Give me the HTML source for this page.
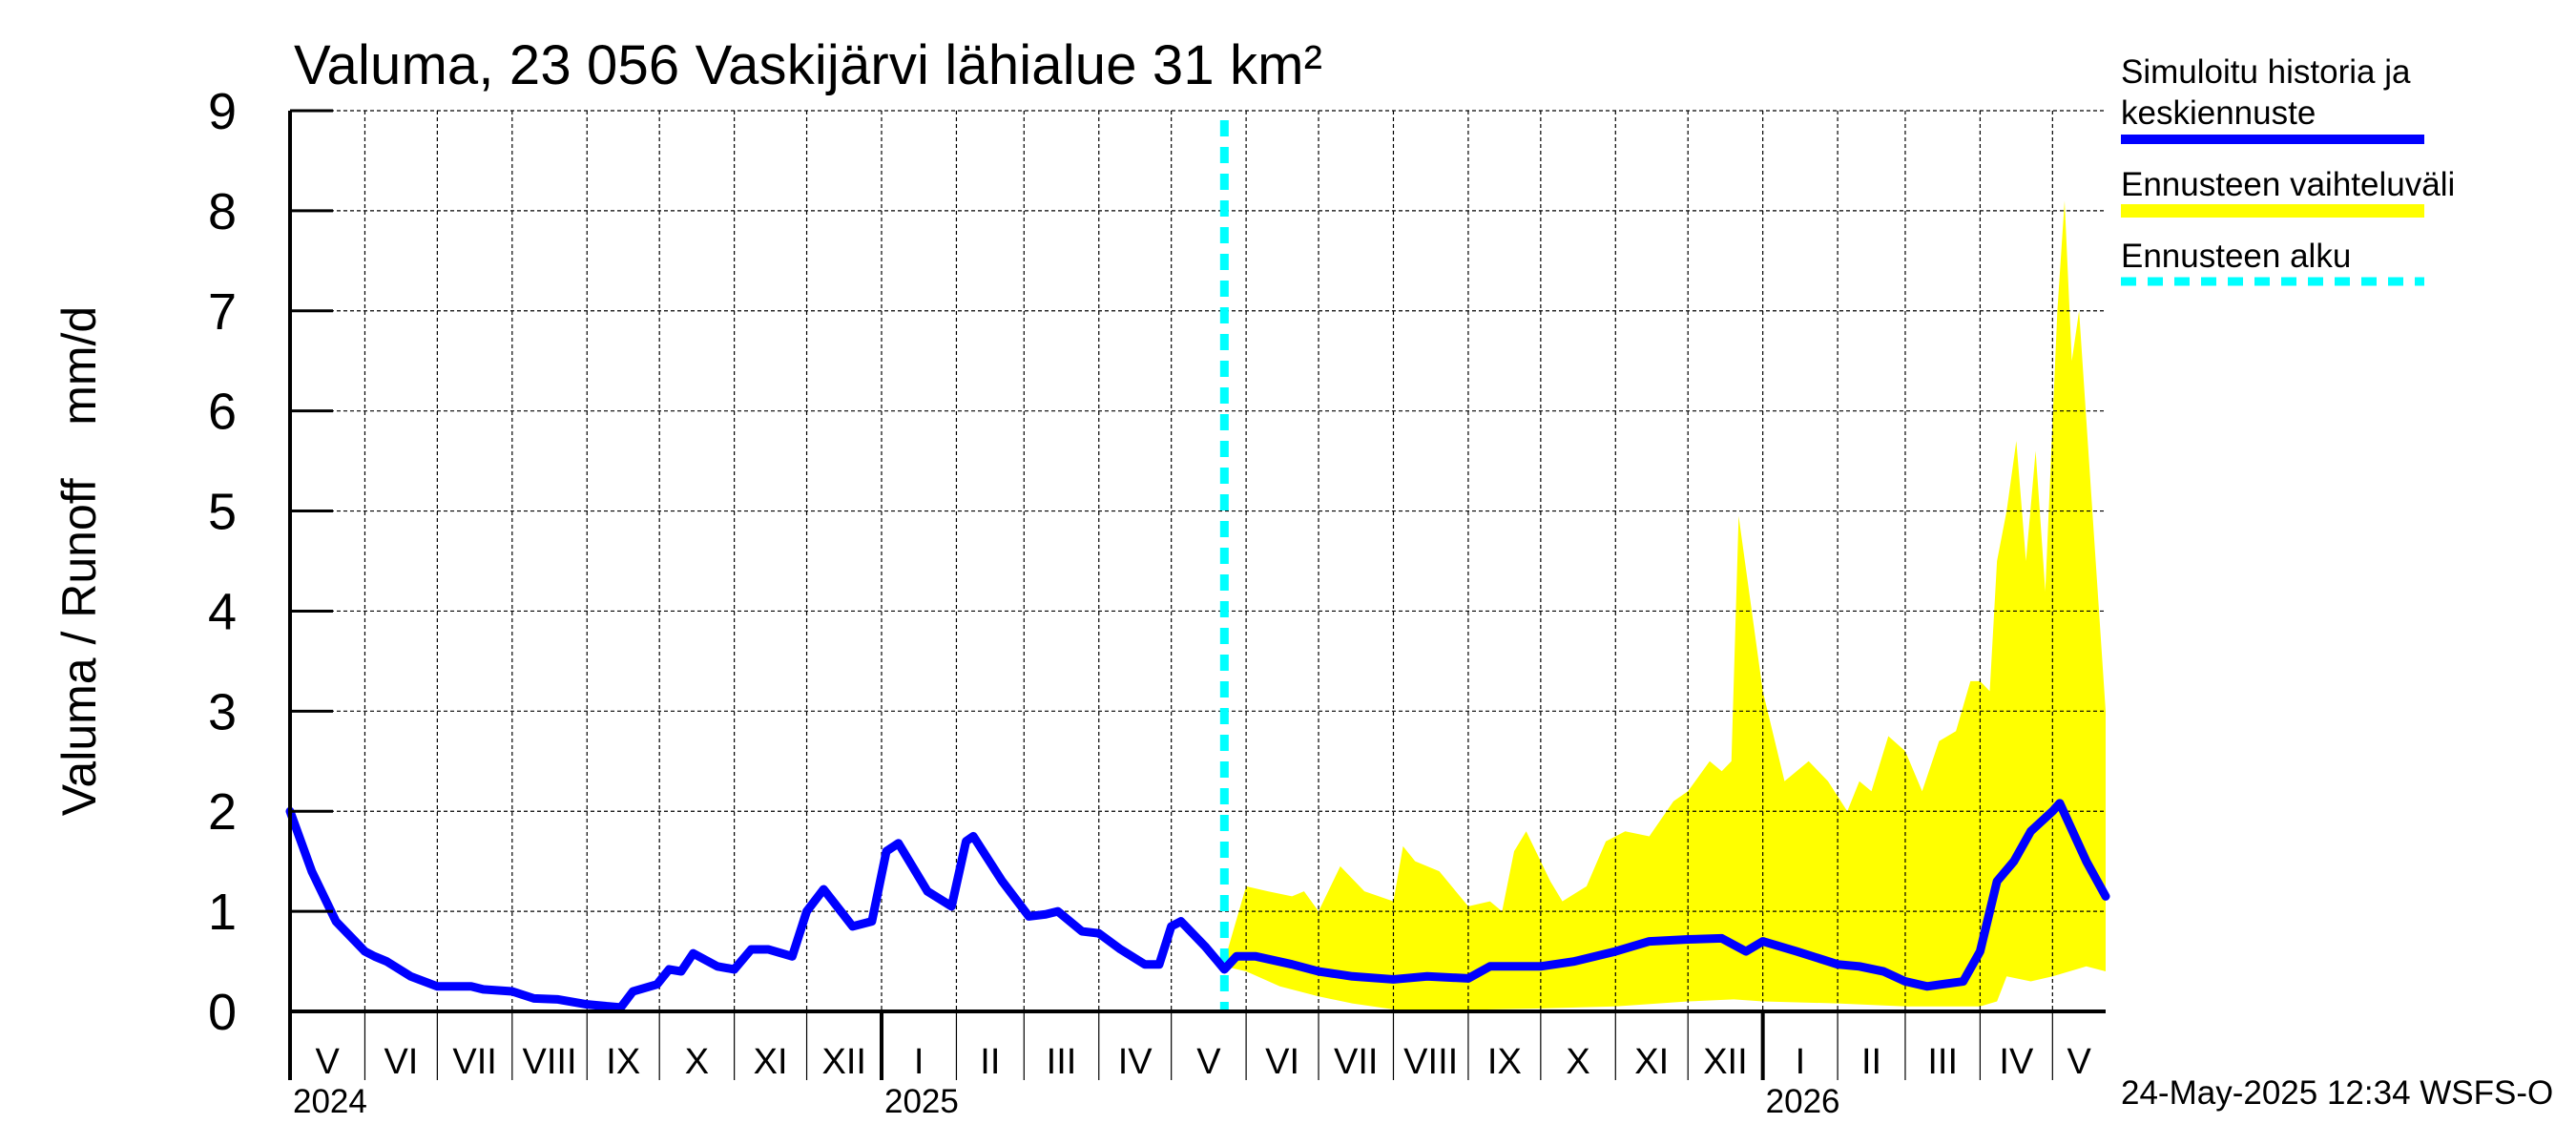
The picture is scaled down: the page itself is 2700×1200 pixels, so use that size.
<!DOCTYPE html>
<html><head><meta charset="utf-8"><style>
html,body{margin:0;padding:0;background:#fff}
svg{display:block;font-family:"Liberation Sans",sans-serif}
</style></head><body>
<svg id="chart" width="2700" height="1200" viewBox="0 0 2700 1200" xmlns="http://www.w3.org/2000/svg">
<rect width="2700" height="1200" fill="#fff"/>
<g id="band"></g>
<g id="grid"></g>
<g id="series"></g>
<g id="axes"></g>
<text x="308" y="88" font-size="58" textLength="1078">Valuma, 23 056 Vaskijärvi lähialue 31 km²</text>
<text transform="translate(100,588) rotate(-90)" text-anchor="middle" font-size="50" xml:space="preserve">Valuma / Runoff    mm/d</text>
<g>
<text x="2223" y="87" font-size="35">Simuloitu historia ja</text>
<text x="2223" y="130" font-size="35">keskiennuste</text>
<line x1="2223" y1="146" x2="2541" y2="146" stroke="#0000ff" stroke-width="10"/>
<text x="2223" y="205" font-size="35">Ennusteen vaihteluväli</text>
<line x1="2223" y1="221" x2="2541" y2="221" stroke="#ffff00" stroke-width="14"/>
<text x="2223" y="280" font-size="35">Ennusteen alku</text>
<line x1="2223" y1="295" x2="2541" y2="295" stroke="#00ffff" stroke-width="9" stroke-dasharray="16,12"/>
</g>
<text x="2223" y="1157" font-size="35">24-May-2025 12:34 WSFS-O</text>
</svg>
<script>
const histDates=["2024-05-01","2024-05-10","2024-05-20","2024-06-01","2024-06-05","2024-06-10","2024-06-20","2024-07-01","2024-07-15","2024-07-20","2024-08-01","2024-08-10","2024-08-20","2024-09-01","2024-09-10","2024-09-15","2024-09-20","2024-09-30","2024-10-05","2024-10-10","2024-10-15","2024-10-25","2024-11-01","2024-11-08","2024-11-15","2024-11-25","2024-12-01","2024-12-08","2024-12-20","2024-12-28","2025-01-03","2025-01-08","2025-01-20","2025-01-30","2025-02-05","2025-02-08","2025-02-20","2025-03-03","2025-03-10","2025-03-15","2025-03-25","2025-04-01","2025-04-10","2025-04-20","2025-04-26","2025-05-01","2025-05-05","2025-05-15","2025-05-23","2025-05-28","2025-06-05","2025-06-20","2025-07-01","2025-07-15","2025-08-01","2025-08-15","2025-09-01","2025-09-10","2025-09-20","2025-10-01","2025-10-15","2025-11-01","2025-11-15","2025-12-01","2025-12-15","2025-12-25","2026-01-01","2026-01-15","2026-02-01","2026-02-10","2026-02-20","2026-03-01","2026-03-10","2026-03-25","2026-04-01","2026-04-08","2026-04-15","2026-04-22","2026-05-01","2026-05-04","2026-05-15","2026-05-23"];
const histValues=[2.0,1.4,0.9,0.6,0.55,0.5,0.35,0.25,0.25,0.22,0.2,0.13,0.12,0.07,0.05,0.04,0.2,0.27,0.42,0.4,0.58,0.45,0.42,0.62,0.62,0.55,1.0,1.22,0.85,0.9,1.6,1.68,1.2,1.05,1.7,1.75,1.3,0.95,0.97,1.0,0.8,0.78,0.62,0.47,0.47,0.85,0.9,0.65,0.42,0.55,0.55,0.47,0.4,0.35,0.32,0.35,0.33,0.45,0.45,0.45,0.5,0.6,0.7,0.72,0.73,0.6,0.7,0.6,0.47,0.45,0.4,0.3,0.25,0.3,0.6,1.3,1.5,1.8,2.0,2.08,1.5,1.15];
const upDates=["2025-05-23","2025-06-01","2025-06-10","2025-06-20","2025-06-25","2025-07-01","2025-07-10","2025-07-20","2025-08-01","2025-08-05","2025-08-10","2025-08-20","2025-09-01","2025-09-10","2025-09-15","2025-09-20","2025-09-25","2025-10-05","2025-10-10","2025-10-20","2025-10-28","2025-11-05","2025-11-15","2025-11-25","2025-12-01","2025-12-10","2025-12-15","2025-12-19","2025-12-22","2026-01-01","2026-01-10","2026-01-20","2026-01-28","2026-02-05","2026-02-10","2026-02-15","2026-02-22","2026-03-01","2026-03-08","2026-03-15","2026-03-22","2026-03-28","2026-04-01","2026-04-05","2026-04-08","2026-04-12","2026-04-16","2026-04-20","2026-04-24","2026-04-28","2026-05-03","2026-05-06","2026-05-09","2026-05-12","2026-05-23"];
const upValues=[0.5,1.25,1.2,1.15,1.2,1.0,1.45,1.2,1.1,1.65,1.5,1.4,1.05,1.1,1.0,1.6,1.8,1.3,1.1,1.25,1.7,1.8,1.75,2.1,2.2,2.5,2.4,2.5,4.95,3.2,2.3,2.5,2.3,2.0,2.3,2.2,2.75,2.6,2.2,2.7,2.8,3.3,3.3,3.2,4.5,5.0,5.7,4.5,5.6,4.2,7.0,8.1,6.5,7.0,3.0];
const lowDates=["2025-05-23","2025-06-01","2025-06-15","2025-07-01","2025-07-15","2025-08-01","2025-08-20","2025-09-10","2025-10-01","2025-11-01","2025-12-01","2025-12-20","2026-01-01","2026-02-01","2026-03-01","2026-04-01","2026-04-08","2026-04-12","2026-04-22","2026-05-01","2026-05-15","2026-05-23"];
const lowValues=[0.45,0.4,0.25,0.15,0.08,0.02,0.0,0.02,0.03,0.05,0.1,0.12,0.1,0.08,0.05,0.05,0.1,0.35,0.3,0.35,0.45,0.4];
const yTicks=[0,1,2,3,4,5,6,7,8,9];
const monthLabels=["V","VI","VII","VIII","IX","X","XI","XII","I","II","III","IV","V","VI","VII","VIII","IX","X","XI","XII","I","II","III","IV","V"];
const yearLabels=["2024","2025","2026"];
const forecastStart="2025-05-23";

const L=304,R=2207,T=116,B=1060;
const d0=Date.UTC(2024,4,1), d1=Date.UTC(2026,4,23);
const x=s=>{const p=s.split("-").map(Number);const t=Date.UTC(p[0],p[1]-1,p[2]);return L+(t-d0)/(d1-d0)*(R-L);};
const y=v=>B-v*(B-T)/9;
const NS="http://www.w3.org/2000/svg";
function mk(tag,attrs,parent){const e=document.createElementNS(NS,tag);for(const k in attrs)e.setAttribute(k,attrs[k]);parent.appendChild(e);return e;}
const band=document.getElementById('band'),grid=document.getElementById('grid'),ser=document.getElementById('series'),axes=document.getElementById('axes');

let pts=upDates.map((d,i)=>x(d)+","+y(upValues[i]));
for(let i=lowDates.length-1;i>=0;i--)pts.push(x(lowDates[i])+","+y(lowValues[i]));
const poly=mk('polygon',{points:pts.join(" "),fill:"#ffff00"},band);



yTicks.forEach(v=>{
  if(v>0){const g=mk('line',{x1:L,x2:R,y1:y(v),y2:y(v),stroke:"#000","stroke-width":1.2,"stroke-dasharray":"4,3"},grid);
  
  }
  const tk=mk('line',{x1:L,x2:L+45,y1:y(v),y2:y(v),stroke:"#000","stroke-width":3},axes);
  
  
  const t=mk('text',{x:248,y:y(v)+19,"text-anchor":"end","font-size":54},axes);
  t.textContent=v;
  
  
});

const mStarts=[];
for(let i=0;i<monthLabels.length;i++){const m=(4+i)%12,yr=2024+Math.floor((4+i)/12);mStarts.push(yr+"-"+String(m+1).padStart(2,"0")+"-01");}
mStarts.forEach((d,i)=>{
  const xs=x(d);
  if(i>0){const g=mk('line',{x1:xs,x2:xs,y1:T,y2:B,stroke:"#000","stroke-width":1.2,"stroke-dasharray":"4,3"},grid);
  
  }
  const isYear=d.endsWith("-01-01");
  const tk=mk('line',{x1:xs,x2:xs,y1:B,y2:1132,stroke:"#000","stroke-width":isYear?4:1.2},axes);
  
  
  const next=i+1<mStarts.length?x(mStarts[i+1]):R;
  const t=mk('text',{x:(xs+next)/2,y:1125,"text-anchor":"middle","font-size":38},axes);
  t.textContent=monthLabels[i];
  
  
});
const yearDates=["2024-05-01","2025-01-01","2026-01-01"];
yearLabels.forEach((lab,i)=>{
  const t=mk('text',{x:x(yearDates[i])+3,y:1166,"font-size":35},axes);
  t.textContent=lab;
  
  
});

const ax1=mk('line',{x1:L,x2:L,y1:T,y2:1132,stroke:"#000","stroke-width":4},axes);


const ax2=mk('line',{x1:L,x2:R,y1:B,y2:B,stroke:"#000","stroke-width":4},axes);



const fx=x(forecastStart);
const fl=mk('line',{x1:fx,x2:fx,y1:126,y2:B,stroke:"#00ffff","stroke-width":9,"stroke-dasharray":"17,11"},ser);



const sl=mk('polyline',{points:histDates.map((d,i)=>x(d)+","+y(histValues[i])).join(" "),fill:"none",stroke:"#0000ff","stroke-width":9,"stroke-linejoin":"round","stroke-linecap":"round"},ser);


</script>
</body></html>
